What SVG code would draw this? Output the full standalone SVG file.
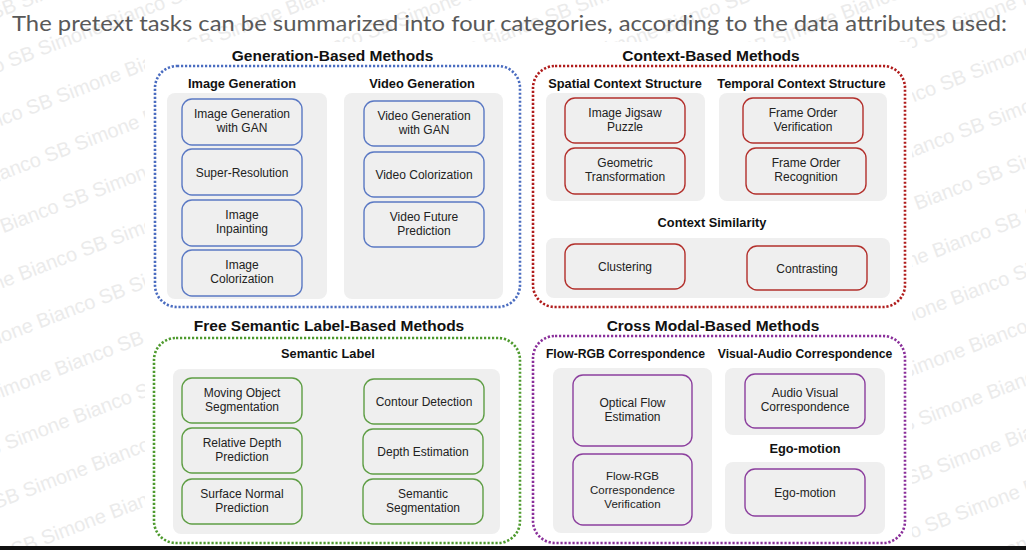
<svg xmlns="http://www.w3.org/2000/svg" width="1026" height="550" viewBox="0 0 1026 550">
  <style>
    .wm { font-family: "Liberation Sans", Arial, sans-serif; font-size: 20px; fill: #ebebeb; }
    .title { font-family: Lato, "Noto Sans", sans-serif; font-size: 22px; fill: #595959; }
    .sec { font-family: "Liberation Sans", Arial, sans-serif; font-weight: bold; font-size: 15.5px; fill: #111; text-anchor: middle; }
    .lab { font-family: "Liberation Sans", Arial, sans-serif; font-weight: bold; font-size: 12.8px; fill: #111; text-anchor: middle; }
    .lab.sm { font-size: 12.2px; }
    .panel { fill: #efefef; }
    .frame { fill: none; stroke-width: 2.6; stroke-dasharray: 2.2 1.8; }
    .node rect { fill: none; stroke-width: 1.4; }
    .node text { font-family: "Liberation Sans", Arial, sans-serif; font-size: 12px; fill: #222; text-anchor: middle; }
    .blue rect { stroke: #5b79c4; }
    .red rect { stroke: #b3302c; }
    .green rect { stroke: #5f9e45; }
    .purple rect { stroke: #8c3f9e; }
  </style>

  <rect width="1026" height="550" fill="#fff"/>

  <!-- background watermark lines -->
  <g id="watermark" class="wm" transform="rotate(-21)">
    <text x="-671" y="16">Simone Bianco SB Simone Bianco SB Simone Bianco SB Simone Bianco SB Simone Bianco SB Simone Bianco SB Simone Bianco SB Simone Bianco SB Simone Bianco SB Simone Bianco SB</text>
    <text x="-671" y="67">Simone Bianco SB Simone Bianco SB Simone Bianco SB Simone Bianco SB Simone Bianco SB Simone Bianco SB Simone Bianco SB Simone Bianco SB Simone Bianco SB Simone Bianco SB</text>
    <text x="-671" y="118">Simone Bianco SB Simone Bianco SB Simone Bianco SB Simone Bianco SB Simone Bianco SB Simone Bianco SB Simone Bianco SB Simone Bianco SB Simone Bianco SB Simone Bianco SB</text>
    <text x="-671" y="169">Simone Bianco SB Simone Bianco SB Simone Bianco SB Simone Bianco SB Simone Bianco SB Simone Bianco SB Simone Bianco SB Simone Bianco SB Simone Bianco SB Simone Bianco SB</text>
    <text x="-671" y="219">Simone Bianco SB Simone Bianco SB Simone Bianco SB Simone Bianco SB Simone Bianco SB Simone Bianco SB Simone Bianco SB Simone Bianco SB Simone Bianco SB Simone Bianco SB</text>
    <text x="-671" y="270">Simone Bianco SB Simone Bianco SB Simone Bianco SB Simone Bianco SB Simone Bianco SB Simone Bianco SB Simone Bianco SB Simone Bianco SB Simone Bianco SB Simone Bianco SB</text>
    <text x="-671" y="321">Simone Bianco SB Simone Bianco SB Simone Bianco SB Simone Bianco SB Simone Bianco SB Simone Bianco SB Simone Bianco SB Simone Bianco SB Simone Bianco SB Simone Bianco SB</text>
    <text x="-671" y="372">Simone Bianco SB Simone Bianco SB Simone Bianco SB Simone Bianco SB Simone Bianco SB Simone Bianco SB Simone Bianco SB Simone Bianco SB Simone Bianco SB Simone Bianco SB</text>
    <text x="-671" y="423">Simone Bianco SB Simone Bianco SB Simone Bianco SB Simone Bianco SB Simone Bianco SB Simone Bianco SB Simone Bianco SB Simone Bianco SB Simone Bianco SB Simone Bianco SB</text>
    <text x="-671" y="474">Simone Bianco SB Simone Bianco SB Simone Bianco SB Simone Bianco SB Simone Bianco SB Simone Bianco SB Simone Bianco SB Simone Bianco SB Simone Bianco SB Simone Bianco SB</text>
    <text x="-671" y="525">Simone Bianco SB Simone Bianco SB Simone Bianco SB Simone Bianco SB Simone Bianco SB Simone Bianco SB Simone Bianco SB Simone Bianco SB Simone Bianco SB Simone Bianco SB</text>
    <text x="-671" y="576">Simone Bianco SB Simone Bianco SB Simone Bianco SB Simone Bianco SB Simone Bianco SB Simone Bianco SB Simone Bianco SB Simone Bianco SB Simone Bianco SB Simone Bianco SB</text>
    <text x="-671" y="627">Simone Bianco SB Simone Bianco SB Simone Bianco SB Simone Bianco SB Simone Bianco SB Simone Bianco SB Simone Bianco SB Simone Bianco SB Simone Bianco SB Simone Bianco SB</text>
    <text x="-671" y="678">Simone Bianco SB Simone Bianco SB Simone Bianco SB Simone Bianco SB Simone Bianco SB Simone Bianco SB Simone Bianco SB Simone Bianco SB Simone Bianco SB Simone Bianco SB</text>
    <text x="-671" y="728">Simone Bianco SB Simone Bianco SB Simone Bianco SB Simone Bianco SB Simone Bianco SB Simone Bianco SB Simone Bianco SB Simone Bianco SB Simone Bianco SB Simone Bianco SB</text>
    <text x="-671" y="779">Simone Bianco SB Simone Bianco SB Simone Bianco SB Simone Bianco SB Simone Bianco SB Simone Bianco SB Simone Bianco SB Simone Bianco SB Simone Bianco SB Simone Bianco SB</text>
    <text x="-671" y="830">Simone Bianco SB Simone Bianco SB Simone Bianco SB Simone Bianco SB Simone Bianco SB Simone Bianco SB Simone Bianco SB Simone Bianco SB Simone Bianco SB Simone Bianco SB</text>
    <text x="-671" y="881">Simone Bianco SB Simone Bianco SB Simone Bianco SB Simone Bianco SB Simone Bianco SB Simone Bianco SB Simone Bianco SB Simone Bianco SB Simone Bianco SB Simone Bianco SB</text>
    <text x="-671" y="932">Simone Bianco SB Simone Bianco SB Simone Bianco SB Simone Bianco SB Simone Bianco SB Simone Bianco SB Simone Bianco SB Simone Bianco SB Simone Bianco SB Simone Bianco SB</text>
  </g>

  <text class="title" x="12" y="31" textLength="995" lengthAdjust="spacingAndGlyphs">The pretext tasks can be summarized into four categories, according to the data attributes used:</text>

  <!-- diagram canvas -->
  <rect x="145" y="42" width="767" height="504" fill="#fff"/>

  <!-- ===== Generation-Based Methods ===== -->
  <g id="generation-based">
    <text class="sec" x="332.5" y="61">Generation-Based Methods</text>
    <rect class="frame" x="155" y="66" width="365" height="241" rx="22" stroke="#4a6cc0"/>
    <text class="lab" x="242" y="87.5">Image Generation</text>
    <text class="lab" x="422" y="87.5">Video Generation</text>
    <rect class="panel" x="167" y="93" width="160" height="206" rx="8"/>
    <rect class="panel" x="344" y="93" width="159" height="206" rx="8"/>
  </g>
  <g id="image-generation-gan" class="node blue">
    <rect x="182" y="99" width="120" height="46" rx="10"/>
    <text x="242" y="118">Image Generation</text>
    <text x="242" y="132">with GAN</text>
  </g>
  <g id="super-resolution" class="node blue">
    <rect x="182" y="149" width="120" height="46" rx="10"/>
    <text x="242" y="176.5">Super-Resolution</text>
  </g>
  <g id="image-inpainting" class="node blue">
    <rect x="182" y="200" width="120" height="46" rx="10"/>
    <text x="242" y="219">Image</text>
    <text x="242" y="233">Inpainting</text>
  </g>
  <g id="image-colorization" class="node blue">
    <rect x="182" y="250" width="120" height="46" rx="10"/>
    <text x="242" y="269">Image</text>
    <text x="242" y="283">Colorization</text>
  </g>
  <g id="video-generation-gan" class="node blue">
    <rect x="364" y="101" width="120" height="45" rx="10"/>
    <text x="424" y="119.5">Video Generation</text>
    <text x="424" y="133.5">with GAN</text>
  </g>
  <g id="video-colorization" class="node blue">
    <rect x="364" y="152" width="120" height="45" rx="10"/>
    <text x="424" y="179">Video Colorization</text>
  </g>
  <g id="video-future-prediction" class="node blue">
    <rect x="364" y="202" width="120" height="45" rx="10"/>
    <text x="424" y="220.5">Video Future</text>
    <text x="424" y="234.5">Prediction</text>
  </g>

  <!-- ===== Context-Based Methods ===== -->
  <g id="context-based">
    <text class="sec" x="711" y="61">Context-Based Methods</text>
    <rect class="frame" x="533" y="66" width="372" height="241" rx="22" stroke="#b01c1c"/>
    <text class="lab" x="625" y="87.5">Spatial Context Structure</text>
    <text class="lab" x="801.5" y="87.5">Temporal Context Structure</text>
    <rect class="panel" x="546" y="93" width="159" height="108" rx="8"/>
    <rect class="panel" x="719" y="93" width="168" height="108" rx="8"/>
    <text class="lab" x="712" y="226.5">Context Similarity</text>
    <rect class="panel" x="546" y="238" width="344" height="60" rx="8"/>
  </g>
  <g id="image-jigsaw-puzzle" class="node red">
    <rect x="565" y="98" width="120" height="45" rx="10"/>
    <text x="625" y="116.5">Image Jigsaw</text>
    <text x="625" y="130.5">Puzzle</text>
  </g>
  <g id="geometric-transformation" class="node red">
    <rect x="565" y="148" width="120" height="46" rx="10"/>
    <text x="625" y="167">Geometric</text>
    <text x="625" y="181">Transformation</text>
  </g>
  <g id="frame-order-verification" class="node red">
    <rect x="743" y="98" width="120" height="45" rx="10"/>
    <text x="803" y="116.5">Frame Order</text>
    <text x="803" y="130.5">Verification</text>
  </g>
  <g id="frame-order-recognition" class="node red">
    <rect x="746" y="148" width="120" height="46" rx="10"/>
    <text x="806" y="167">Frame Order</text>
    <text x="806" y="181">Recognition</text>
  </g>
  <g id="clustering" class="node red">
    <rect x="565" y="244" width="120" height="45" rx="10"/>
    <text x="625" y="271">Clustering</text>
  </g>
  <g id="contrasting" class="node red">
    <rect x="747" y="246" width="120" height="44" rx="10"/>
    <text x="807" y="272.5">Contrasting</text>
  </g>

  <!-- ===== Free Semantic Label-Based Methods ===== -->
  <g id="semantic-label-based">
    <text class="sec" x="329" y="331">Free Semantic Label-Based Methods</text>
    <rect class="frame" x="154" y="338" width="366" height="205" rx="22" stroke="#4e9a2e"/>
    <text class="lab" x="328" y="357.5">Semantic Label</text>
    <rect class="panel" x="173" y="369" width="327" height="165" rx="8"/>
  </g>
  <g id="moving-object-segmentation" class="node green">
    <rect x="182" y="378" width="120" height="45" rx="10"/>
    <text x="242" y="396.5">Moving Object</text>
    <text x="242" y="410.5">Segmentation</text>
  </g>
  <g id="relative-depth-prediction" class="node green">
    <rect x="182" y="428" width="120" height="45" rx="10"/>
    <text x="242" y="446.5">Relative Depth</text>
    <text x="242" y="460.5">Prediction</text>
  </g>
  <g id="surface-normal-prediction" class="node green">
    <rect x="182" y="479" width="120" height="45" rx="10"/>
    <text x="242" y="497.5">Surface Normal</text>
    <text x="242" y="511.5">Prediction</text>
  </g>
  <g id="contour-detection" class="node green">
    <rect x="364" y="379" width="120" height="45" rx="10"/>
    <text x="424" y="406">Contour Detection</text>
  </g>
  <g id="depth-estimation" class="node green">
    <rect x="363" y="429" width="120" height="45" rx="10"/>
    <text x="423" y="456">Depth Estimation</text>
  </g>
  <g id="semantic-segmentation" class="node green">
    <rect x="363" y="479" width="120" height="45" rx="10"/>
    <text x="423" y="497.5">Semantic</text>
    <text x="423" y="511.5">Segmentation</text>
  </g>

  <!-- ===== Cross Modal-Based Methods ===== -->
  <g id="cross-modal-based">
    <text class="sec" x="713" y="331">Cross Modal-Based Methods</text>
    <rect class="frame" x="533" y="336" width="372" height="207" rx="22" stroke="#8a2f9a"/>
    <text class="lab sm" x="625.5" y="357.5">Flow-RGB Correspondence</text>
    <text class="lab sm" x="805" y="357.5">Visual-Audio Correspondence</text>
    <rect class="panel" x="553" y="368" width="159" height="165" rx="8"/>
    <rect class="panel" x="725" y="368" width="160" height="67" rx="8"/>
    <text class="lab" x="805" y="453">Ego-motion</text>
    <rect class="panel" x="725" y="462" width="160" height="72" rx="8"/>
  </g>
  <g id="optical-flow-estimation" class="node purple">
    <rect x="573" y="375" width="119" height="71" rx="10"/>
    <text x="632.5" y="406.5">Optical Flow</text>
    <text x="632.5" y="420.5">Estimation</text>
  </g>
  <g id="flow-rgb-correspondence-verification" class="node purple">
    <rect x="573" y="454" width="119" height="71" rx="10"/>
    <text x="632.5" y="480" style="font-size:11.5px">Flow-RGB</text>
    <text x="632.5" y="494" style="font-size:11.5px">Correspondence</text>
    <text x="632.5" y="507.5" style="font-size:11.5px">Verification</text>
  </g>
  <g id="audio-visual-correspondence" class="node purple">
    <rect x="745" y="374" width="120" height="54" rx="10"/>
    <text x="805" y="397">Audio Visual</text>
    <text x="805" y="411">Correspondence</text>
  </g>
  <g id="ego-motion" class="node purple">
    <rect x="745" y="469" width="120" height="47" rx="10"/>
    <text x="805" y="497">Ego-motion</text>
  </g>

  <!-- bottom edge bar -->
  <rect x="0" y="546" width="1026" height="4" fill="#111"/>
</svg>
